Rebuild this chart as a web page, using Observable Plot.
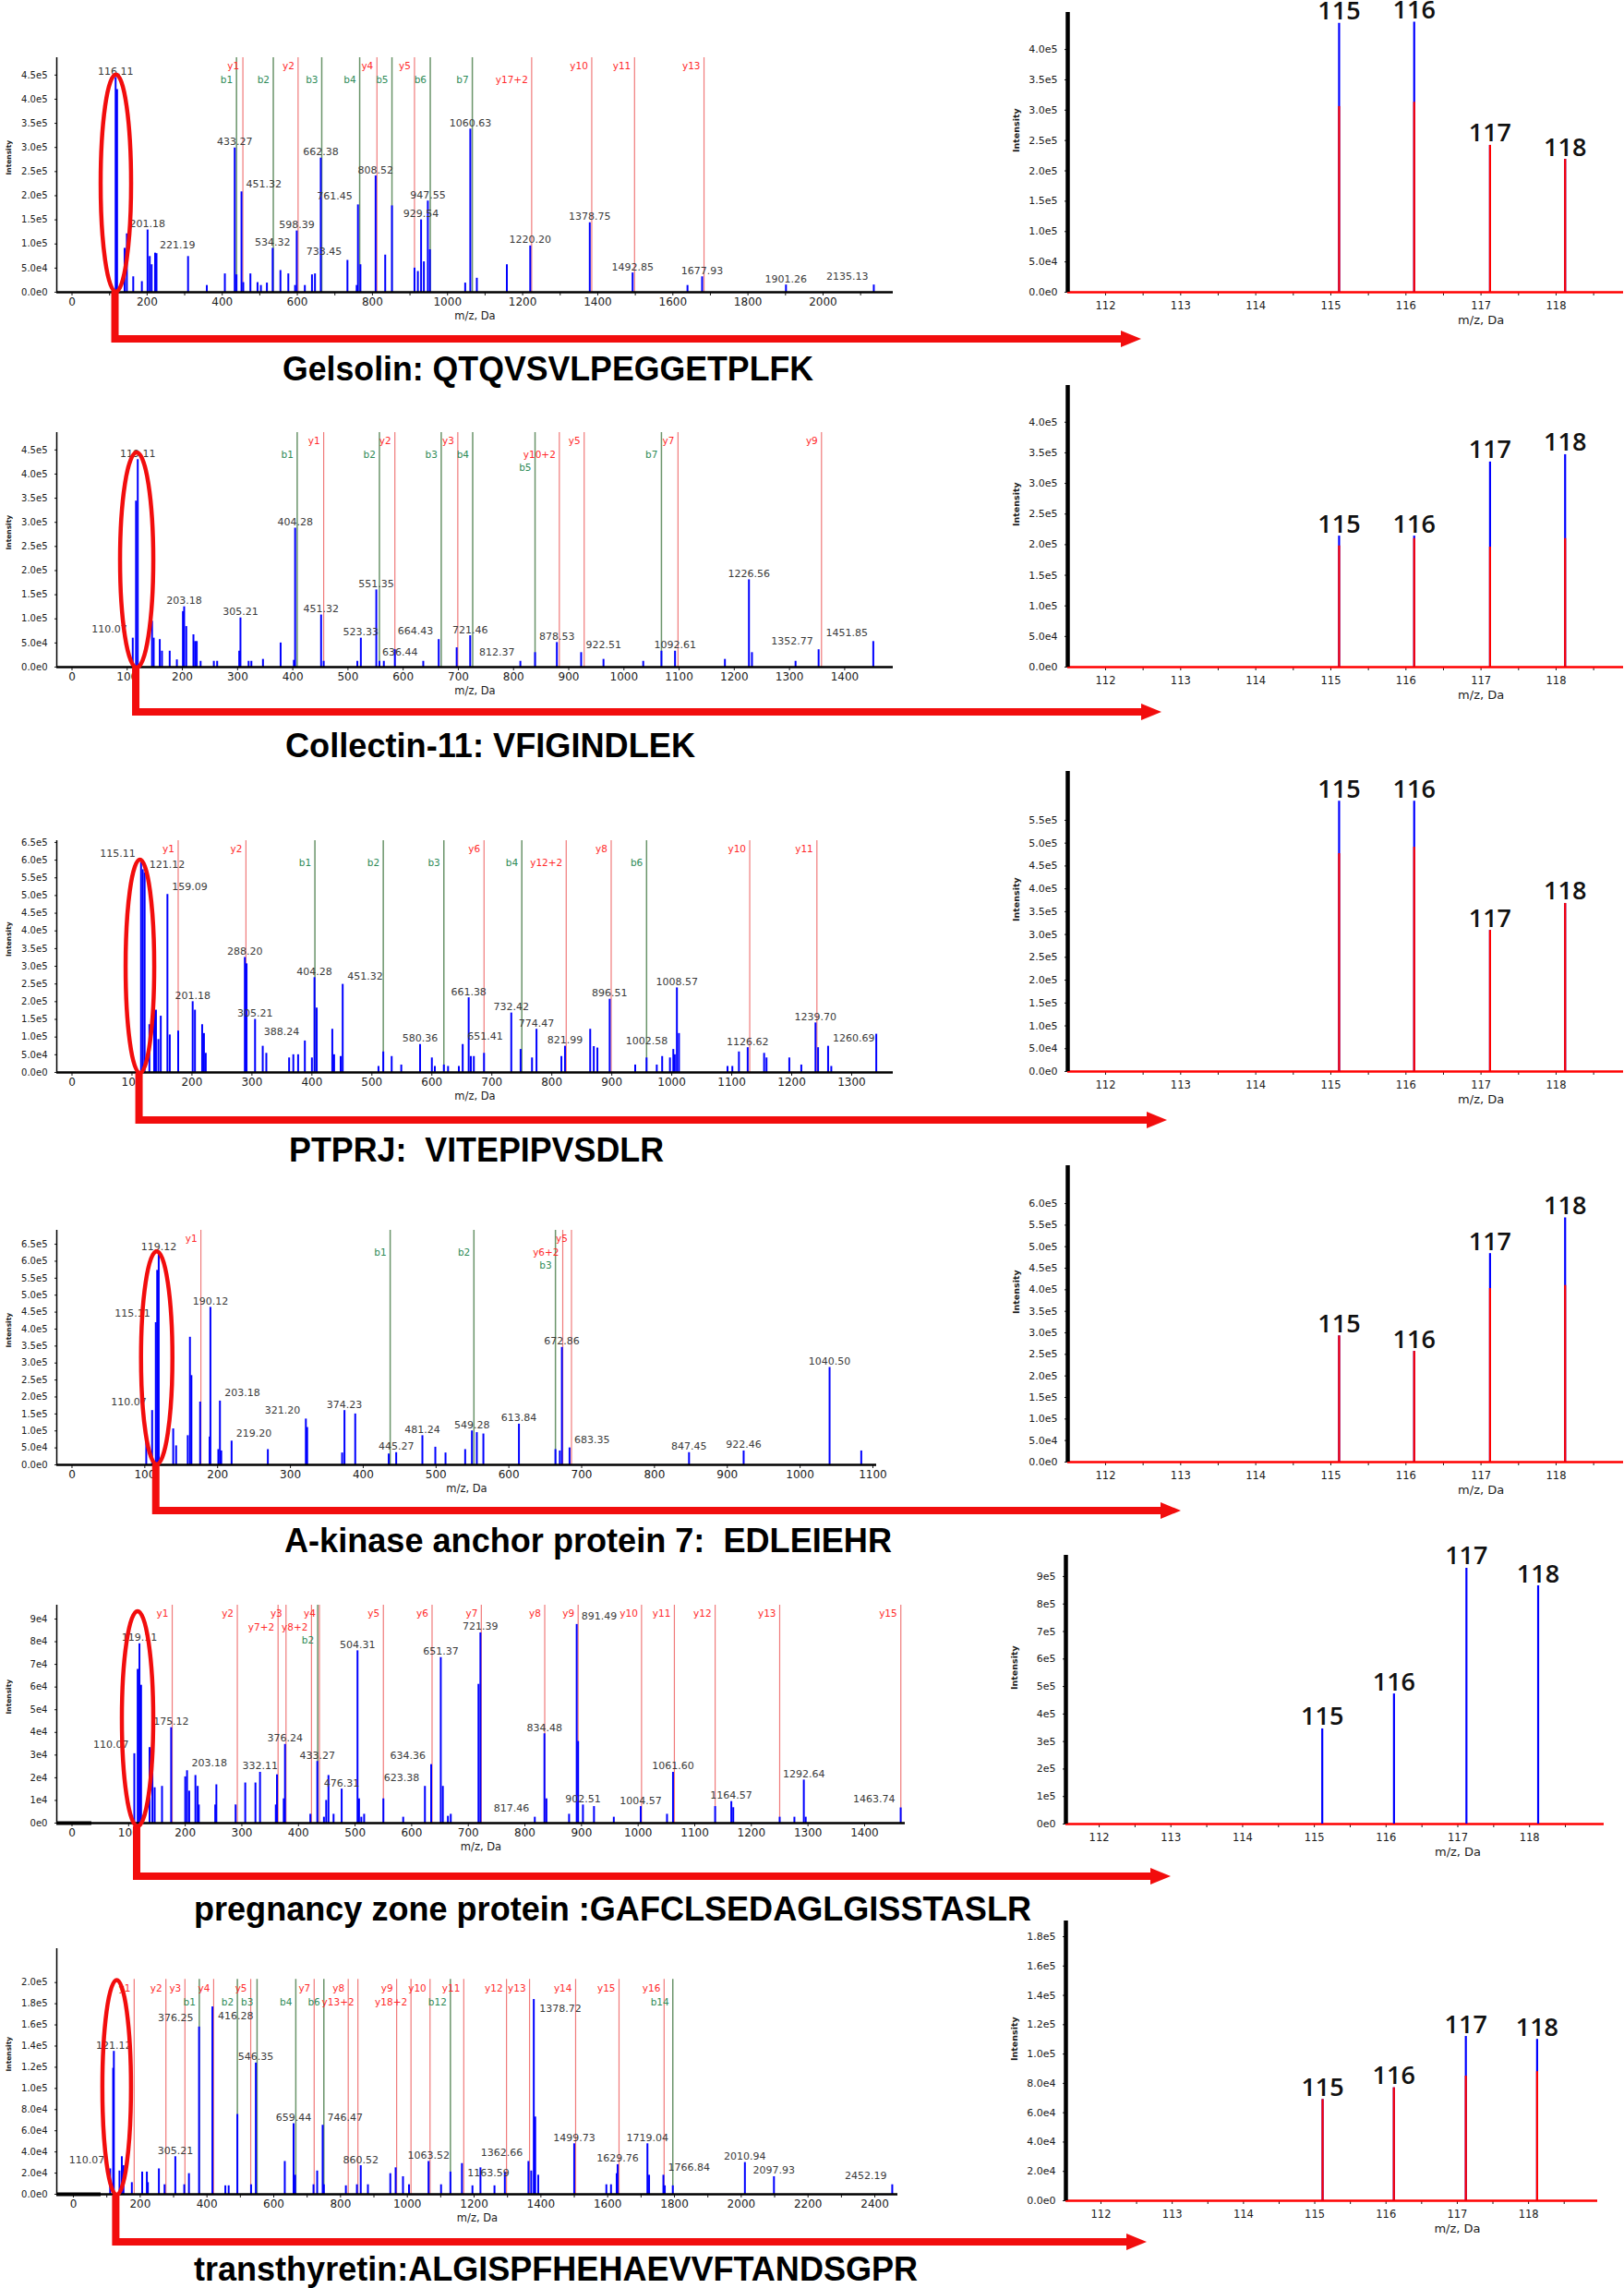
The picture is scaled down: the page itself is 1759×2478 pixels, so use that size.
<!DOCTYPE html>
<html><head><meta charset="utf-8">
<script src="https://cdn.jsdelivr.net/npm/d3@7"></script>
<script src="https://cdn.jsdelivr.net/npm/@observablehq/plot@0.6"></script>
<style>
html,body{margin:0;padding:0;background:#fff;}
#page{position:relative;width:1759px;height:2478px;overflow:hidden;background:#fff;}
.panel{position:absolute;}
#overlay{position:absolute;left:0;top:0;pointer-events:none;}
</style></head><body><div id="page"></div>
<script>
// ---------------- DATA ----------------
// MS/MS spectra: [m/z, intensity, label]
const gelsolinPeaks = [[116.11,445000,"116.11"],[120,420000],[140,91000],[146,121000],[163,32000],[186,22000],[201.18,129000,"201.18"],[207,74000],[212,57000],[221.19,81000,"221.19"],[225,80000],[309,74000],[359,14000],[407,38000],[433.27,299000,"433.27"],[438,36000],[451.32,208000,"451.32"],[456,20000],[475,38000],[494,20000],[503,14000],[519,19000],[534.32,91000,"534.32"],[555,45000],[576,38000],[594,14000],[598.39,127000,"598.39"],[620,14000],[639,36000],[647,38000],[662.38,278000,"662.38"],[733.45,66000,"733.45"],[758,14000],[761.45,181000,"761.45"],[768,57000],[808.52,241000,"808.52"],[834,77000],[852,179000],[912,50000],[921,43000],[929.54,150000,"929.54"],[937,63000],[947.55,189000,"947.55"],[953,88000],[1047,19000],[1060.63,338000,"1060.63"],[1078,29000],[1158,57000],[1220.20,96000,"1220.20"],[1378.75,144000,"1378.75"],[1492.85,40000,"1492.85"],[1639,14000],[1677.93,32000,"1677.93"],[1901.26,15000,"1901.26"],[2135.13,15000,"2135.13"]];
const gelsolinIons = [["b1",438],["y1",455],["b2",536],["y2",602],["b3",665],["b4",766],["y4",812],["b5",852],["y5",912],["b6",954],["b7",1066],["y17+2",1224],["y10",1384],["y11",1498],["y13",1683]];

const collectinPeaks = [[110.07,60000,"110.07"],[116,344000],[119.11,430000,"119.11"],[145,95000],[148,60000],[159,57000],[163,33000],[177,33000],[190,15000],[201,115000],[203.18,125000,"203.18"],[207,84000],[220,67000],[223,53000],[226,53000],[233,12000],[257,12000],[263,12000],[303,33000],[305.21,102000,"305.21"],[320,12000],[325,12000],[346,16000],[378,50000],[402,14000],[404.28,288000,"404.28"],[451.32,108000,"451.32"],[456,12000],[517,12000],[523.33,60000,"523.33"],[551.35,160000,"551.35"],[557,12000],[565,12000],[585,36000],[636.44,12000,"636.44"],[664.43,57000,"664.43"],[697,40000],[721.46,65000,"721.46"],[812.37,12000,"812.37"],[839,30000],[878.53,51000,"878.53"],[922.51,30000,"922.51"],[963,16000],[1035,12000],[1068,33000],[1092.61,33000,"1092.61"],[1183,16000],[1226.56,181000,"1226.56"],[1232,30000],[1311,12000],[1352.77,36000,"1352.77"],[1451.85,53000,"1451.85"]];
const collectinIons = [["b1",408],["y1",456],["b2",557],["y2",585],["b3",669],["y3",699],["b4",726],["b5",839],["y10+2",883],["y5",928],["b7",1068],["y7",1098],["y9",1358]];

const ptprjPeaks = [[115.11,593000,"115.11"],[118,573000],[121.12,564000,"121.12"],[129,135000],[137,268000],[140,176000],[144,93000],[148,159000],[159.09,503000,"159.09"],[163,106000],[177,117000],[201.18,200000,"201.18"],[205,176000],[217,135000],[220,110000],[223,54000],[288.20,325000,"288.20"],[291,307000],[305.21,150000,"305.21"],[318,74000],[324,54000],[362,41000],[369,50000],[377,50000],[388.24,89000,"388.24"],[400,41000],[404.28,268000,"404.28"],[408,182000],[434,122000],[437,50000],[448,45000],[451.32,249000,"451.32"],[511,17000],[519,58000],[533,45000],[549,21000],[580.36,79000,"580.36"],[600,41000],[605,17000],[620,21000],[627,17000],[645,17000],[651.41,79000,"651.41"],[661.38,211000,"661.38"],[665,45000],[670,45000],[687,54000],[732.42,168000,"732.42"],[748,65000],[767,41000],[774.47,122000,"774.47"],[816,45000],[821.99,74000,"821.99"],[864,122000],[870,73000],[876,69000],[896.51,207000,"896.51"],[939,21000],[958,41000],[975,21000],[984,45000],[997,41000],[1002.58,65000,"1002.58"],[1005,50000],[1008.57,239000,"1008.57"],[1012,110000],[1093,17000],[1101,17000],[1112,58000],[1126.62,70000,"1126.62"],[1154,54000],[1158,41000],[1196,41000],[1216,21000],[1239.70,140000,"1239.70"],[1244,70000],[1260.69,74000,"1260.69"],[1266,17000],[1341,108000]];
const ptprjIons = [["y1",177],["y2",290],["b1",405],["b2",519],["b3",620],["y6",687],["b4",750],["y12+2",824],["y8",899],["b6",958],["y10",1130],["y11",1242]];

const akapPeaks = [[102,92000],[110.07,160000,"110.07"],[115.11,419000,"115.11"],[117,573000],[119.12,623000,"119.12"],[139,106000],[143,56000],[159,86000],[162,376000],[164,263000],[176,185000],[189,82000],[190.12,464000,"190.12"],[201,45000],[203.18,188000,"203.18"],[205,41000],[219.20,70000,"219.20"],[269,45000],[321.20,135000,"321.20"],[323,110000],[371,35000],[374.23,160000,"374.23"],[389,150000],[435,32000],[445.27,36000,"445.27"],[481.24,86000,"481.24"],[499,52000],[513,35000],[540,45000],[549.28,100000,"549.28"],[556,95000],[565,91000],[613.84,120000,"613.84"],[664,45000],[670,41000],[672.86,346000,"672.86"],[683.35,50000,"683.35"],[847.45,36000,"847.45"],[922.46,41000,"922.46"],[1040.50,287000,"1040.50"],[1084,41000]];
const akapIons = [["y1",177],["b1",437],["b2",552],["b3",664],["y6+2",674],["y5",686]];

const pzpPeaks = [[110.07,30600,"110.07"],[116,67800],[119.11,79100,"119.11"],[122,60800],[137,33300],[142,25400],[146,15600],[159,16200],[175.12,42100,"175.12"],[200,20400],[203.18,23100,"203.18"],[207,14100],[218,21000],[222,16200],[224,8000],[253,8000],[255,16900],[289,8000],[306,17700],[324,17700],[332.11,22400,"332.11"],[360,8000],[362,21300],[374,10700],[376.24,34700,"376.24"],[421,3900],[433.27,27200,"433.27"],[445,2600],[449,10000],[453,21000],[462,3900],[476.31,15000,"476.31"],[504.31,76000,"504.31"],[507,10700],[511,2600],[516,3900],[550,10700],[585,2600],[623.38,16200,"623.38"],[634.36,25800,"634.36"],[651.37,73000,"651.37"],[655,16200],[664,3000],[669,3900],[718,61200],[721.39,83900,"721.39"],[817.46,2600,"817.46"],[834.48,39400,"834.48"],[838,10700],[878,3900],[891.49,87600,"891.49"],[894,36000],[902.51,8000,"902.51"],[922,7300],[957,2600],[1004.57,7300,"1004.57"],[1051,3900],[1061.60,22400,"1061.60"],[1136,7300],[1164.57,9500,"1164.57"],[1168,6800],[1250,2600],[1276,2600],[1292.64,19000,"1292.64"],[1296,2600],[1463.74,6700,"1463.74"]];
const pzpIons = [["y1",177],["y2",292],["y7+2",364],["y3",378],["y8+2",423],["b2",434],["y4",437],["y5",550],["y6",636],["y7",723],["y8",835],["y9",894],["y10",1006],["y11",1064],["y12",1136],["y13",1250],["y15",1464]];

const ttrPeaks = [[110.07,24000,"110.07"],[119,119000],[121.12,135000,"121.12"],[138,22000],[145,35500],[150,27000],[175,11000],[206,21000],[220,21000],[223,11000],[256,24000],[273,9000],[305.21,35500,"305.21"],[332,9000],[346,19500],[376.25,158000,"376.25"],[416.28,177000,"416.28"],[455,8000],[465,8000],[491,75400],[532,9000],[546.35,124000,"546.35"],[633,31000],[659.44,66700,"659.44"],[664,18000],[719,9000],[730,22000],[746.47,65200,"746.47"],[750,9000],[816,8000],[849,9000],[860.52,27000,"860.52"],[882,9000],[949,19500],[965,25000],[987,16600],[1005,9000],[1063.52,31000,"1063.52"],[1101,9000],[1129,21000],[1163.59,29000,"1163.59"],[1195,8000],[1219,25000],[1261,8000],[1292,21000],[1362.66,31000,"1362.66"],[1371,22000],[1378.72,184000,"1378.72"],[1383,73000],[1392,18000],[1499.73,47700,"1499.73"],[1596,9000],[1610,9000],[1627,19500],[1629.76,28000,"1629.76"],[1719.04,47700,"1719.04"],[1724,18000],[1766.84,18000,"1766.84"],[1771,8000],[1795,8000],[2010.94,30000,"2010.94"],[2097.93,16600,"2097.93"],[2452.19,9000,"2452.19"]];
const ttrIons = [["y1",182],["y2",277],["y3",334],["b1",377],["y4",420],["b2",491],["y5",531],["b3",550],["b4",666],["y7",721],["b6",750],["y8",823],["y13+2",852],["y9",968],["y18+2",1011],["y10",1068],["b12",1129],["y11",1169],["y12",1297],["y13",1366],["y14",1504],["y15",1634],["y16",1769],["b14",1795]];

// iTRAQ reporter ions
const reporterMz = [115.11, 116.11, 117.12, 118.12];
const reporterLabels = ["115", "116", "117", "118"];
const gelsolinReporterBlue = [443000, 445000, 242000, 219000];
const gelsolinReporterRed  = [306000, 313000, 242000, 219000];
const collectinReporterBlue = [214000, 214000, 335000, 347000];
const collectinReporterRed  = [198000, 210000, 196000, 210000];
const ptprjReporterBlue = [592000, 592000, 309000, 368000];
const ptprjReporterRed  = [477000, 491000, 309000, 368000];
const akapReporterBlue = [293000, 257000, 484000, 567000];
const akapReporterRed  = [293000, 257000, 403000, 410000];
const pzpReporterBlue = [346000, 473000, 930000, 866000];
const pzpReporterRed  = [0, 0, 0, 0];
const ttrReporterBlue = [69000, 77000, 112000, 110000];
const ttrReporterRed  = [69000, 77000, 85000, 88000];

const captions = [
  "Gelsolin: QTQVSVLPEGGETPLFK",
  "Collectin-11: VFIGINDLEK",
  "PTPRJ:  VITEPIPVSDLR",
  "A-kinase anchor protein 7:  EDLEIEHR",
  "pregnancy zone protein :GAFCLSEDAGLGISSTASLR",
  "transthyretin:ALGISPFHEHAEVVFTANDSGPR"
];

// ---------------- LAYOUT / STYLE ----------------
const RED = "#f20d0d";
const FONT = "'DejaVu Sans', 'Liberation Sans', sans-serif";
function sci1(v){ if (v === 0) return "0.0e0"; const e = Math.floor(Math.log10(v) + 1e-9); return (v / Math.pow(10, e)).toFixed(1) + "e" + e; }
function sci0(v){ if (v === 0) return "0e0"; const e = Math.floor(Math.log10(v) + 1e-9); return (v / Math.pow(10, e)).toFixed(0) + "e" + e; }

const rows = [
  {peaks: gelsolinPeaks, ions: gelsolinIons, blue: gelsolinReporterBlue, red: gelsolinReporterRed, caption: captions[0],
   sideR: ["451.32","221.19"], sideL: ["733.45","761.45","2135.13"], sideLow: [], third: [],
   L: {top: 62, base: 316, right: 967, x: [-40.6, 2186.9], yTop: 486000, yMax: 450000, yStep: 50000, fmt: sci1, xMax: 2100, xEvery: 200},
   ell: {mz: 118, top: 450000, rx: 16.5, below: 0},
   R: {top: 13, base: 316, left: 1156, right: 1758, x: [111.496, 118.898], yTop: 461000, yMax: 400000, yStep: 50000, fmt: sci1},
   arrow: {drop: 51, tip: 1236}, cap: {x1: 306, x2: 881, base: 412}},
  {peaks: collectinPeaks, ions: collectinIons, blue: collectinReporterBlue, red: collectinReporterRed, caption: captions[1],
   sideR: ["922.51"], sideL: ["110.07","636.44","664.43","812.37","1352.77","1451.85"], sideLow: [], third: ["b5"],
   L: {top: 468, base: 722, right: 967, x: [-27.6, 1488], yTop: 486000, yMax: 450000, yStep: 50000, fmt: sci1, xMax: 1400, xEvery: 100},
   ell: {mz: 118, top: 444000, rx: 18, below: 1},
   R: {top: 417, base: 722, left: 1156, right: 1758, x: [111.496, 118.898], yTop: 460000, yMax: 400000, yStep: 50000, fmt: sci1},
   arrow: {drop: 49, tip: 1258}, cap: {x1: 309, x2: 753, base: 820}},
  {peaks: ptprjPeaks, ions: ptprjIons, blue: ptprjReporterBlue, red: ptprjReporterRed, caption: captions[2],
   sideR: ["121.12","159.09","451.32","651.41","1260.69"], sideL: ["115.11","388.24","1002.58"], sideLow: [], third: [],
   L: {top: 910, base: 1161, right: 967, x: [-25.4, 1369.3], yTop: 655000, yMax: 650000, yStep: 50000, fmt: sci1, xMax: 1300, xEvery: 100},
   ell: {mz: 114, top: 600000, rx: 15.5, below: 1},
   R: {top: 835, base: 1160, left: 1156, right: 1758, x: [111.496, 118.898], yTop: 657000, yMax: 550000, yStep: 50000, fmt: sci1},
   arrow: {drop: 52, tip: 1264}, cap: {x1: 313, x2: 719, base: 1258}},
  {peaks: akapPeaks, ions: akapIons, blue: akapReporterBlue, red: akapReporterRed, caption: captions[3],
   sideR: ["203.18","219.20","683.35"], sideL: ["110.07","115.11","321.20"], sideLow: [], third: ["b3"],
   L: {top: 1332, base: 1586, right: 949, x: [-20.9, 1105.1], yTop: 691000, yMax: 650000, yStep: 50000, fmt: sci1, xMax: 1100, xEvery: 100},
   ell: {mz: 117, top: 628000, rx: 17, below: 0},
   R: {top: 1262, base: 1583, left: 1156, right: 1758, x: [111.496, 118.898], yTop: 688000, yMax: 600000, yStep: 50000, fmt: sci1},
   arrow: {drop: 50, tip: 1279}, cap: {x1: 308, x2: 966, base: 1681}},
  {peaks: pzpPeaks, ions: pzpIons, blue: pzpReporterBlue, red: pzpReporterRed, caption: captions[4],
   sideR: ["891.49","203.18"], sideL: ["110.07","623.38","634.36","817.46","1463.74"], sideLow: [], third: ["b2"],
   L: {top: 1738, base: 1974, right: 980, x: [-26.9, 1471.8], yTop: 96100, yMax: 90000, yStep: 10000, fmt: sci0, xMax: 1400, xEvery: 100, stub: 35},
   ell: {mz: 116.6, top: 93300, rx: 17, below: 4},
   R: {top: 1684, base: 1975, left: 1154, right: 1737, x: [111.536, 119.04], yTop: 977000, yMax: 900000, yStep: 100000, fmt: sci0},
   arrow: {drop: 58, tip: 1268}, cap: {x1: 210, x2: 1117, base: 2080}},
  {peaks: ttrPeaks, ions: ttrIons, blue: ttrReporterBlue, red: ttrReporterRed, caption: captions[5],
   sideR: ["746.47","1766.84"], sideL: ["110.07","376.25","1362.66","2452.19"], sideLow: ["416.28","1163.59","1378.72"], third: [],
   L: {top: 2110, base: 2376, right: 972, x: [-49.8, 2469], yTop: 232000, lineTop: 203000, yMax: 200000, yStep: 20000, fmt: sci1, xMax: 2400, xEvery: 200, stub: 83},
   ell: {mz: 131, top: 202000, rx: 15.5, below: 1},
   R: {top: 2080, base: 2383, left: 1154, right: 1730, x: [111.508, 118.97], yTop: 190700, yMax: 180000, yStep: 20000, fmt: sci1},
   arrow: {drop: 52, tip: 1242}, cap: {x1: 210, x2: 994, base: 2470}}
];

const ML = 61, MT = 10, MB = 45;
const MLR = 75, MTR = 14, MBR = 45;
const page = document.getElementById("page");

function leftPlot(row) {
  const L = row.L;
  const width = L.right + 6;
  const height = L.base - L.top + MT + MB;
  const lineTop = L.lineTop ?? L.yTop;
  const isSecond = d => d[0][0] === "b" || d[0].includes("+2");
  const isThird = d => row.third.includes(d[0]);
  const labeled = row.peaks.filter(d => d[2]);
  const special = new Set([...row.sideR, ...row.sideL, ...row.sideLow]);
  const right = labeled.filter(d => row.sideR.includes(d[2]));
  const low = labeled.filter(d => row.sideLow.includes(d[2]));
  const left = labeled.filter(d => row.sideL.includes(d[2]));
  const center = labeled.filter(d => !special.has(d[2]));
  const txt = {x: d => d[0], y: d => d[1], text: d => d[2], fontSize: 11, fill: "#3a3a3a", fontFamily: FONT};
  const ionTxt = (data, color, dy) => Plot.text(data, {x: d => d[1], y: d => lineTop, text: d => d[0], textAnchor: "end", dx: -4, dy, lineAnchor: "middle", fontSize: 10.5, fill: color, fontFamily: FONT});
  const yIons = row.ions.filter(d => d[0][0] === "y");
  const bIons = row.ions.filter(d => d[0][0] === "b");
  return Plot.plot({
    width, height, marginLeft: ML, marginRight: 6, marginTop: MT, marginBottom: MB,
    style: {fontFamily: FONT, fontSize: "11px", color: "#1a1a1a", background: "transparent", overflow: "visible"},
    x: {domain: L.x}, y: {domain: [0, L.yTop]},
    marks: [
      Plot.axisX({ticks: d3.range(0, L.xMax + 1, 100), tickFormat: v => v % L.xEvery === 0 ? String(v) : "", tickSize: 4, tickPadding: 2, fontSize: 12, label: null}),
      Plot.axisY({ticks: d3.range(0, L.yMax + L.yStep / 2, L.yStep), tickFormat: L.fmt, tickSize: 2, tickPadding: 8, fontSize: 10, label: null}),
      Plot.ruleX(yIons, {x: d => d[1], y1: 0, y2: lineTop, stroke: "#f07a7a", strokeWidth: 1.2}),
      Plot.ruleX(bIons, {x: d => d[1], y1: 0, y2: lineTop, stroke: "#6a946a", strokeWidth: 1.5}),
      Plot.ruleX(row.peaks, {x: d => d[0], y1: 0, y2: d => d[1], stroke: "#0000ff", strokeWidth: 2}),
      Plot.ruleY([0], {stroke: "#000", strokeWidth: 2.3}),
      L.stub ? Plot.ruleY([0], {x1: L.x[0], x2: L.stub, stroke: "#000", strokeWidth: 4}) : null,
      Plot.ruleX([L.x[0]], {stroke: "#000", strokeWidth: 1.5}),
      Plot.text(center, {...txt, dy: -3, lineAnchor: "bottom"}),
      Plot.text(right, {...txt, dy: -5, dx: 5, lineAnchor: "bottom", textAnchor: "start"}),
      Plot.text(low, {...txt, dy: 6, dx: 6, lineAnchor: "top", textAnchor: "start"}),
      Plot.text(left, {...txt, dy: -6, dx: -6, lineAnchor: "bottom", textAnchor: "end"}),
      ionTxt(yIons.filter(d => !isSecond(d)), "#ff2a2a", 9.5),
      ionTxt(yIons.filter(d => isSecond(d) && !isThird(d)), "#ff2a2a", 24.5),
      ionTxt(bIons.filter(d => !isThird(d)), "#2e8b57", 24.5),
      ionTxt(bIons.filter(d => isThird(d)), "#2e8b57", 38.5),
      Plot.text(["m/z, Da"], {frameAnchor: "bottom", text: d => d, dy: 29, fontSize: 11.5, fontFamily: FONT}),
      Plot.text(["Intensity"], {frameAnchor: "left", text: d => d, rotate: -90, dx: -52, fontSize: 7.5, fontWeight: "bold", fontFamily: FONT})
    ]
  });
}

function rightPlot(row) {
  const R = row.R;
  const width = MLR + (R.right - R.left) + 1;
  const height = R.base - R.top + MTR + MBR;
  const rep = reporterMz.map((mz, i) => ({mz, blue: row.blue[i], red: row.red[i], label: reporterLabels[i]}));
  return Plot.plot({
    width, height, marginLeft: MLR, marginRight: 1, marginTop: MTR, marginBottom: MBR,
    style: {fontFamily: FONT, fontSize: "11px", color: "#1a1a1a", background: "transparent", overflow: "visible"},
    x: {domain: R.x}, y: {domain: [0, R.yTop]},
    marks: [
      Plot.axisX({ticks: d3.range(224, 238).map(v => v / 2), tickFormat: v => Number.isInteger(v) ? String(v) : "", tickSize: 4, tickPadding: 6, fontSize: 11.5, label: null}),
      Plot.axisY({ticks: d3.range(0, R.yMax + R.yStep / 2, R.yStep), tickFormat: R.fmt, tickSize: 3, tickPadding: 8, fontSize: 11, label: null}),
      Plot.ruleY([0], {stroke: "#ff0000", strokeWidth: 2.5}),
      Plot.ruleX(rep, {x: "mz", y1: 0, y2: "blue", stroke: "#0000ff", strokeWidth: 2.2}),
      Plot.ruleX(rep.filter(d => d.red > 0), {x: "mz", y1: 0, y2: "red", stroke: "#ff0000", strokeWidth: 2.2}),
      Plot.ruleX([R.x[0]], {stroke: "#000", strokeWidth: 4.5}),
      Plot.text(rep, {x: "mz", y: "blue", text: "label", dy: -4, lineAnchor: "bottom", fontSize: 27, fontWeight: 600, fontFamily: "'Open Sans', 'Noto Sans', sans-serif", fill: "#111"}),
      Plot.text(["m/z, Da"], {x: () => 117, frameAnchor: "bottom", text: d => d, dy: 34, fontSize: 13, fontFamily: FONT}),
      Plot.text(["Intensity"], {frameAnchor: "left", text: d => d, rotate: -90, dx: -56, fontSize: 9.5, fontWeight: "bold", fontFamily: FONT})
    ]
  });
}

function place(svg, left, top) {
  const div = document.createElement("div");
  div.className = "panel";
  div.style.left = left + "px";
  div.style.top = top + "px";
  div.style.width = svg.getAttribute("width") + "px";
  div.appendChild(svg);
  page.appendChild(div);
}

const overlay = d3.create("svg").attr("id", "overlay").attr("width", 1759).attr("height", 2478);

rows.forEach(row => {
  const lp = leftPlot(row);
  const lTop = row.L.top - MT;
  place(lp, 0, lTop);
  const rp = rightPlot(row);
  place(rp, row.R.left - MLR, row.R.top - MTR);

  const sx = lp.scale("x"), sy = lp.scale("y");
  const cx = sx.apply(row.ell.mz);
  const ty = lTop + sy.apply(row.ell.top);
  const base = lTop + sy.apply(0);
  const by = base + row.ell.below;
  overlay.append("ellipse").attr("cx", cx).attr("cy", (ty + by) / 2).attr("rx", row.ell.rx).attr("ry", (by - ty) / 2)
    .attr("fill", "none").attr("stroke", RED).attr("stroke-width", 4.5);
  const ay = base + row.arrow.drop;
  const tip = row.arrow.tip;
  overlay.append("path").attr("d", `M${cx - 1},${by} V${ay} H${tip - 20}`)
    .attr("fill", "none").attr("stroke", RED).attr("stroke-width", 8).attr("stroke-linejoin", "miter");
  overlay.append("path").attr("d", `M${tip - 22},${ay - 9} L${tip},${ay} L${tip - 22},${ay + 9} Z`).attr("fill", RED);
  overlay.append("text").attr("x", (row.cap.x1 + row.cap.x2) / 2).attr("y", row.cap.base)
    .attr("text-anchor", "middle").attr("textLength", row.cap.x2 - row.cap.x1).attr("lengthAdjust", "spacingAndGlyphs")
    .style("white-space", "pre").attr("font-family", "'Liberation Sans', Arial, sans-serif").attr("font-weight", "bold")
    .attr("font-size", 36).attr("fill", "#000").text(row.caption);
});

page.appendChild(overlay.node());
</script></body></html>
